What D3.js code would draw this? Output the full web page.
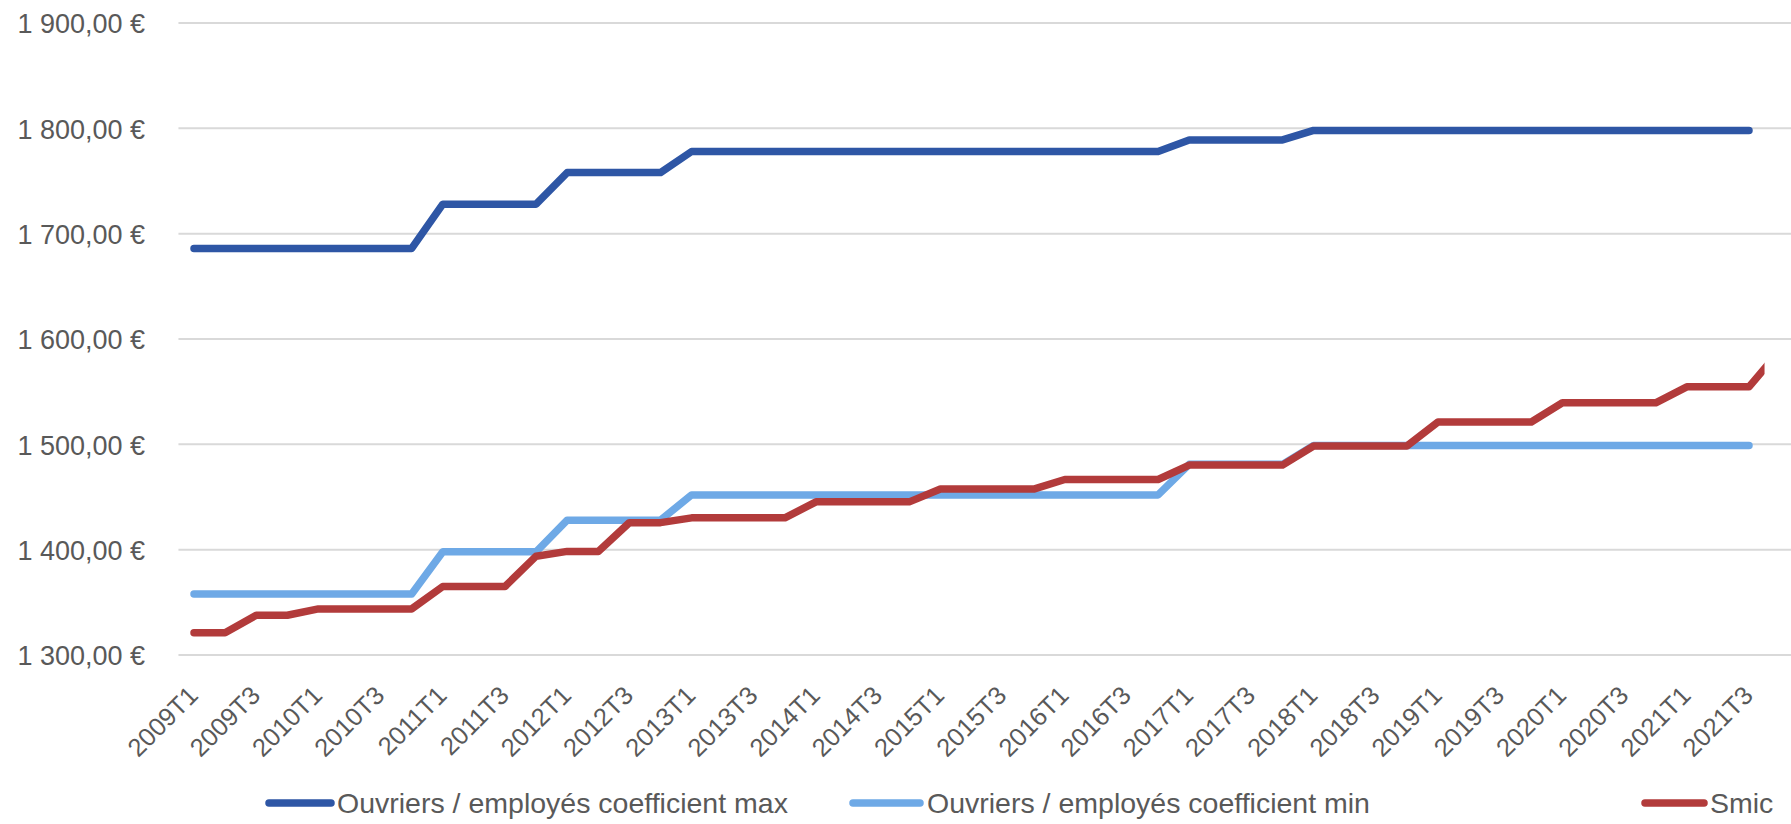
<!DOCTYPE html>
<html><head><meta charset="utf-8">
<script src="https://cdn.jsdelivr.net/npm/d3@7/dist/d3.min.js"></script>
<style>body{margin:0;background:#fff}svg{display:block}</style>
</head><body><svg id="c" width="1791" height="824"></svg>
<script>
const quarters = [
"2009T1","2009T2","2009T3","2009T4","2010T1","2010T2","2010T3","2010T4",
"2011T1","2011T2","2011T3","2011T4","2012T1","2012T2","2012T3","2012T4",
"2013T1","2013T2","2013T3","2013T4","2014T1","2014T2","2014T3","2014T4",
"2015T1","2015T2","2015T3","2015T4","2016T1","2016T2","2016T3","2016T4",
"2017T1","2017T2","2017T3","2017T4","2018T1","2018T2","2018T3","2018T4",
"2019T1","2019T2","2019T3","2019T4","2020T1","2020T2","2020T3","2020T4",
"2021T1","2021T2","2021T3","2021T4"];
const coefMax = [
1686,1686,1686,1686,1686,1686,1686,1686,
1728,1728,1728,1728,1758,1758,1758,1758,
1778,1778,1778,1778,1778,1778,1778,1778,
1778,1778,1778,1778,1778,1778,1778,1778,
1789,1789,1789,1789,1798,1798,1798,1798,
1798,1798,1798,1798,1798,1798,1798,1798,
1798,1798,1798];
const coefMin = [
1358,1358,1358,1358,1358,1358,1358,1358,
1398,1398,1398,1398,1428,1428,1428,1428,
1452,1452,1452,1452,1452,1452,1452,1452,
1452,1452,1452,1452,1452,1452,1452,1452,
1481,1481,1481,1481,1499,1499,1499,1499,
1499,1499,1499,1499,1499,1499,1499,1499,
1499,1499,1499];
const smic = [
1321.02,1321.02,1337.70,1337.70,1343.77,1343.77,1343.77,1343.77,
1365.00,1365.00,1365.00,1393.82,1398.37,1398.37,1425.67,1425.67,
1430.22,1430.22,1430.22,1430.22,1445.38,1445.38,1445.38,1445.38,
1457.52,1457.52,1457.52,1457.52,1466.62,1466.62,1466.62,1466.62,
1480.27,1480.27,1480.27,1480.27,1498.47,1498.47,1498.47,1498.47,
1521.22,1521.22,1521.22,1521.22,1539.42,1539.42,1539.42,1539.42,
1554.58,1554.58,1554.58,1589.47];
const yTicks = [1300,1400,1500,1600,1700,1800,1900];
const seriesNames = ["Ouvriers / employés coefficient max","Ouvriers / employés coefficient min","Smic"];
const seriesColors = ["#2E56A5","#6EA9E6","#B23B3B"];

const svg = d3.select("#c");
const font = "'Liberation Sans', Arial, sans-serif";
const textCol = "#595959";

const x = d3.scalePoint().domain(quarters).range([194, 194 + 51*31.1]);
const y = d3.scaleLinear().domain([1300,1900]).range([655, 23]);
const gridLeft = x(quarters[0]) - x.step()/2;
const clipRight = x("2021T3") + x.step()/2;

// gridlines
const fmt = d => d3.format(",")(d).replace(",", " ") + ",00 €";
const yAxis = d3.axisLeft(y).tickValues(yTicks).tickSize(0).tickPadding(0).tickFormat(fmt);
svg.append("g").selectAll("line").data(yTicks).join("line")
  .attr("x1", gridLeft).attr("x2", 1791)
  .attr("y1", d => y(d)).attr("y2", d => y(d))
  .attr("stroke", "#D9D9D9").attr("stroke-width", 2);

const gy = svg.append("g").attr("transform", "translate(145,0)").call(yAxis);
gy.select(".domain").remove();
gy.selectAll("text").attr("font-family", font).attr("font-size", 27)
  .attr("fill", textCol).attr("dy", "0.36em").attr("x", 0);

// x labels
const xLabels = quarters.filter((q,i) => i % 2 === 0 && i < 51);
const xAxis = d3.axisBottom(x).tickValues(xLabels).tickSize(0);
const gx = svg.append("g").attr("transform", "translate(0,697)").call(xAxis);
gx.select(".domain").remove();
gx.selectAll("text").attr("font-family", font).attr("font-size", 25.5).attr("fill", textCol)
  .attr("text-anchor", "end").attr("y", 0).attr("dy", 0)
  .attr("transform", "translate(5,0) rotate(-45)");

// clip
svg.append("defs").append("clipPath").attr("id","plot")
  .append("rect").attr("x",0).attr("y",0).attr("width",clipRight).attr("height",824);

const line = d3.line().x((d,i) => x(quarters[i])).y(d => y(d));
const g = svg.append("g").attr("clip-path","url(#plot)");
[coefMax, coefMin, smic].forEach((s, k) => {
  g.append("path").attr("d", line(s)).attr("fill","none")
    .attr("stroke", seriesColors[k]).attr("stroke-width", 7.5)
    .attr("stroke-linejoin","round").attr("stroke-linecap","round");
});

// legend
const legPos = [[269, 331, 337],[853, 920, 927],[1645, 1704, 1710]];
const lg = svg.append("g");
seriesNames.forEach((n, k) => {
  const [a,b,t] = legPos[k];
  lg.append("line").attr("x1",a).attr("x2",b).attr("y1",803).attr("y2",803)
    .attr("stroke", seriesColors[k]).attr("stroke-width",7.5).attr("stroke-linecap","round");
  lg.append("text").attr("x",t).attr("y",803).attr("dy","0.36em")
    .attr("font-family",font).attr("font-size",28.5).attr("fill",textCol).text(n);
});
</script></body></html>
